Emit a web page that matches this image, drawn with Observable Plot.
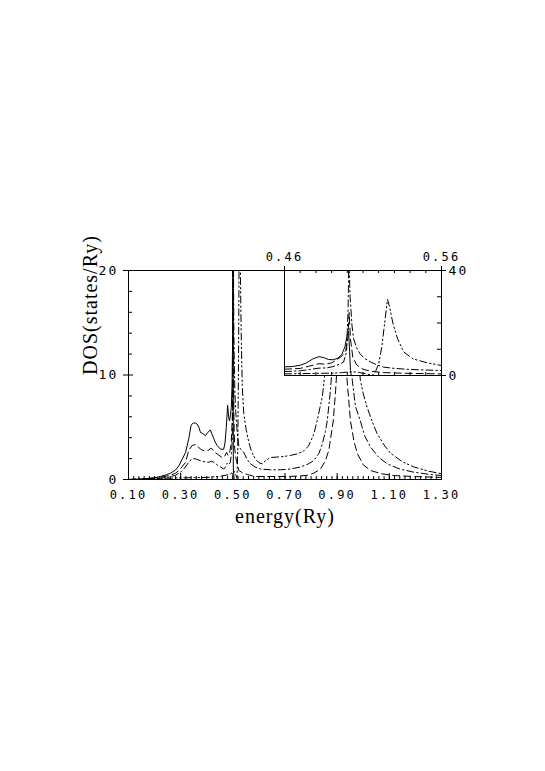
<!DOCTYPE html>
<html>
<head>
<meta charset="utf-8">
<script src="https://cdn.jsdelivr.net/npm/d3@7"></script>
<script src="https://cdn.jsdelivr.net/npm/@observablehq/plot@0.6"></script>
<style>
  html, body { margin: 0; padding: 0; background: white; }
  #wrap { position: relative; width: 545px; height: 771px; }
  #wrap svg { position: absolute; left: 0; top: 0; overflow: visible; }
  [aria-label$="tick label"] text { letter-spacing: 2.2px; }
  [aria-label="text"] text { letter-spacing: 1px; }
</style>
</head>
<body>
<div id="wrap"></div>
<script>
// ---------- Main panel data: [energy (Ry), DOS (states/Ry)] ----------
const solidMain = [[0.10,0],[0.15,0.05],[0.20,0.15],[0.223,0.3],[0.245,0.45],[0.261,0.6],[0.28,0.9],[0.293,1.3],[0.305,1.9],[0.319,2.6],[0.331,3.9],[0.34,5.2],[0.348,5.4],[0.357,5.4],[0.363,5.3],[0.37,5.0],[0.376,4.5],[0.385,4.4],[0.395,4.2],[0.404,4.5],[0.414,4.75],[0.419,4.4],[0.425,4.05],[0.432,3.6],[0.44,3.25],[0.453,2.9],[0.465,2.9],[0.47,3.5],[0.475,5.0],[0.48,7.1],[0.484,6.0],[0.487,5.6],[0.491,6.2],[0.494,6.9],[0.497,9],[0.4995,14],[0.5005,22],[0.502,1],[0.505,0],[1.30,0]];
const dashedMain = [[0.10,0],[0.15,0.03],[0.197,0.15],[0.23,0.25],[0.26,0.4],[0.28,0.6],[0.293,0.85],[0.305,1.2],[0.319,1.65],[0.331,2.8],[0.344,3.25],[0.357,3.35],[0.365,3.2],[0.376,2.9],[0.39,2.75],[0.408,2.8],[0.415,3.0],[0.421,2.9],[0.43,2.6],[0.44,2.45],[0.459,2.1],[0.468,2.2],[0.476,2.6],[0.482,2.3],[0.488,2.6],[0.494,3.5],[0.498,6],[0.5,12],[0.5012,25],[0.502,16],[0.504,6],[0.507,3],[0.512,2],[0.523,0.86],[0.54,0.6],[0.555,0.48],[0.575,0.35],[0.593,0.29],[0.65,0.28],[0.70,0.29],[0.747,0.32],[0.785,0.4],[0.81,0.6],[0.836,1.0],[0.855,1.8],[0.868,2.8],[0.885,5.6],[0.894,8.5],[0.90,11],[0.91,20],[0.917,30],[0.925,20],[0.932,13],[0.938,9.5],[0.951,5.6],[0.965,3.6],[0.977,2.5],[1.00,1.4],[1.028,0.86],[1.07,0.55],[1.117,0.38],[1.20,0.28],[1.30,0.2]];
const dashDotMain = [[0.10,0],[0.20,0.08],[0.25,0.2],[0.28,0.4],[0.30,0.7],[0.315,1.1],[0.331,1.65],[0.34,1.9],[0.35,2.0],[0.36,1.95],[0.376,1.8],[0.39,1.7],[0.408,1.65],[0.418,1.75],[0.427,1.65],[0.44,1.4],[0.453,1.2],[0.465,1.0],[0.472,1.2],[0.478,1.55],[0.483,1.4],[0.49,1.6],[0.495,2.5],[0.498,4],[0.50,9],[0.5008,45],[0.5015,30],[0.503,18],[0.504,14],[0.506,10.5],[0.508,8.3],[0.511,6.5],[0.515,5.1],[0.519,4.0],[0.523,3.2],[0.53,2.9],[0.542,2.6],[0.555,1.9],[0.568,1.5],[0.585,1.2],[0.606,1.0],[0.644,0.93],[0.683,0.93],[0.72,1.0],[0.76,1.2],[0.79,1.5],[0.81,1.8],[0.83,2.5],[0.843,3.4],[0.855,4.6],[0.862,5.6],[0.874,8.5],[0.885,12],[0.90,20],[0.917,35],[0.93,25],[0.945,15],[0.958,9.5],[0.97,7],[0.989,5.6],[1.005,4.2],[1.028,3.1],[1.06,2.1],[1.092,1.5],[1.14,1.0],[1.194,0.7],[1.25,0.5],[1.30,0.38]];
const dashDotDotMain = [[0.10,0],[0.20,0.1],[0.30,0.15],[0.40,0.2],[0.45,0.3],[0.49,0.5],[0.50,0.7],[0.505,0.8],[0.512,0.4],[0.516,0.1],[0.519,3],[0.522,12],[0.5256,29],[0.529,20],[0.532,14],[0.536,9],[0.542,6.3],[0.551,4.8],[0.56,3.7],[0.57,2.8],[0.585,2.0],[0.60,1.6],[0.613,1.5],[0.625,1.8],[0.644,2.1],[0.67,2.15],[0.695,2.2],[0.72,2.3],[0.747,2.45],[0.77,2.7],[0.79,3.2],[0.81,4.3],[0.823,5.6],[0.835,7.0],[0.843,7.9],[0.849,9.2],[0.86,12],[0.88,20],[0.90,32],[0.917,40],[0.94,32],[0.96,20],[0.98,12],[0.989,9.5],[1.00,8.2],[1.015,6.9],[1.035,5.5],[1.053,4.4],[1.08,3.3],[1.105,2.5],[1.15,1.7],[1.194,1.2],[1.25,0.8],[1.30,0.55]];

// ---------- Inset data (0.46 - 0.56 Ry) ----------
const solidInset = [[0.46,3.3],[0.465,3.4],[0.47,3.9],[0.474,4.8],[0.478,6.3],[0.482,7.2],[0.485,6.8],[0.488,6.1],[0.491,6.0],[0.494,6.6],[0.4965,8.0],[0.4985,11],[0.4998,15],[0.5008,17],[0.5015,9],[0.502,2],[0.5025,0],[0.56,0]];
const dashedInset = [[0.46,2.4],[0.47,2.7],[0.476,3.6],[0.482,4.5],[0.486,4.3],[0.49,4.8],[0.4935,6.1],[0.497,7.6],[0.499,9.5],[0.5003,14],[0.5012,24],[0.502,14],[0.5035,7],[0.506,4],[0.51,2.4],[0.515,1.6],[0.523,1.1],[0.54,0.8],[0.56,0.6]];
const dashDotInset = [[0.46,1.5],[0.47,1.8],[0.476,2.3],[0.482,2.8],[0.487,2.9],[0.491,3.4],[0.495,4.3],[0.4976,5.1],[0.4995,9],[0.5005,25],[0.501,45],[0.5018,30],[0.503,19],[0.504,14],[0.506,10.5],[0.508,8.3],[0.511,6.5],[0.515,5.1],[0.519,4.0],[0.523,3.2],[0.53,2.7],[0.54,2.3],[0.55,2.1],[0.56,1.9]];
const dashDotDotInset = [[0.46,0.6],[0.47,0.7],[0.48,0.8],[0.49,0.9],[0.497,1.1],[0.50,1.3],[0.504,1.4],[0.508,1.1],[0.512,0.6],[0.516,0.1],[0.518,1.5],[0.52,4.5],[0.522,11],[0.524,21],[0.5256,29],[0.527,26],[0.529,20],[0.532,14],[0.536,8.9],[0.542,6.3],[0.551,4.8],[0.56,3.8]];

// ---------- Ticks / labels ----------
const xMainTicks = [0.10,0.30,0.50,0.70,0.90,1.10,1.30];
const yMainTicks = [0,10,20];
const xInsetTicks = [0.46,0.56];
const yInsetTicks = [0,40];
const xTitle = "energy(Ry)";
const yTitle = "DOS(states/Ry)";

const styles = [
  {data: [solidMain, solidInset], dash: null},
  {data: [dashedMain, dashedInset], dash: "7,4"},
  {data: [dashDotMain, dashDotInset], dash: "7,3,1.5,3"},
  {data: [dashDotDotMain, dashDotDotInset], dash: "7,3,1.5,2.5,1.5,3"}
];

const W = 545, H = 771;
const mL = 128, mR = 104, mT = 270, mB = 292;
const fw = W - mL - mR, fh = H - mT - mB;
const monoFont = "'DejaVu Sans Mono', 'Liberation Mono', monospace";
const serifFont = "'Liberation Serif', 'DejaVu Serif', serif";

const xMinor = d3.range(0.12, 1.2999, 0.02);
const yMinor = d3.range(2, 20, 2).filter(v => v !== 10);

const main = Plot.plot({
  width: W, height: H,
  marginLeft: mL, marginRight: mR, marginTop: mT, marginBottom: mB,
  style: {fontFamily: monoFont, fontSize: "12px", background: "transparent", color: "black"},
  x: {domain: [0.10, 1.30]},
  y: {domain: [0, 20]},
  marks: [
    ...styles.map(s => Plot.line(s.data[0], {x: d => d[0], y: d => d[1], stroke: "black", strokeWidth: 1, strokeDasharray: s.dash, clip: true})),
    Plot.frame({stroke: "black", strokeWidth: 1}),
    Plot.tickX(xMinor, {x: d => d, insetTop: fh - 3, stroke: "black"}),
    Plot.tickX(xMainTicks, {x: d => d, insetTop: fh - 6, stroke: "black"}),
    Plot.tickY(yMinor, {y: d => d, insetRight: fw - 4, stroke: "black"}),
    Plot.tickY(yMainTicks, {y: d => d, insetLeft: -5, insetRight: fw - 5, stroke: "black"}),
    Plot.axisX({ticks: xMainTicks, tickSize: 0, tickPadding: 11, tickFormat: d3.format(".2f"), fontSize: 12}),
    Plot.axisY({ticks: yMainTicks, tickSize: 0, tickPadding: 10, tickFormat: d => String(d), fontSize: 13}),
    Plot.text([xTitle], {text: d => d, frameAnchor: "bottom", dy: 37, lineAnchor: "middle", fontFamily: serifFont, fontSize: 20}),
    Plot.text([yTitle], {text: d => d, frameAnchor: "left", dx: -38, rotate: -90, lineAnchor: "middle", fontFamily: serifFont, fontSize: 20})
  ]
});

const iL = 284, iR = 104, iT = 270, iB = H - 375;
const ifw = W - iL - iR, ifh = H - iT - iB;
const xInsetMinor = d3.range(0.47, 0.5599, 0.01);
const yInsetMinor = [10, 20, 30];

const inset = Plot.plot({
  width: W, height: H,
  marginLeft: iL, marginRight: iR, marginTop: iT, marginBottom: iB,
  style: {fontFamily: monoFont, fontSize: "12px", background: "transparent", color: "black"},
  x: {domain: [0.46, 0.56]},
  y: {domain: [0, 40]},
  marks: [
    Plot.frame({fill: "white", stroke: "none"}),
    ...styles.map(s => Plot.line(s.data[1], {x: d => d[0], y: d => d[1], stroke: "black", strokeWidth: 1, strokeDasharray: s.dash, clip: true})),
    Plot.frame({stroke: "black", strokeWidth: 1}),
    Plot.tickX(xInsetMinor, {x: d => d, insetBottom: ifh - 3, stroke: "black"}),
    Plot.tickX(xInsetMinor, {x: d => d, insetTop: ifh - 3, stroke: "black"}),
    Plot.tickX(xInsetTicks, {x: d => d, insetTop: -4, insetBottom: ifh - 3, stroke: "black"}),
    Plot.tickY(yInsetMinor, {y: d => d, insetLeft: ifw - 4, stroke: "black"}),
    Plot.tickY(yInsetTicks, {y: d => d, insetLeft: ifw - 3, insetRight: -5, stroke: "black"}),
    Plot.axisX({anchor: "top", ticks: xInsetTicks, tickSize: 0, tickPadding: 10, tickFormat: d3.format(".2f"), fontSize: 12}),
    Plot.axisY({anchor: "right", ticks: yInsetTicks, tickSize: 0, tickPadding: 7, tickFormat: d => String(d), fontSize: 13})
  ]
});

const wrap = document.getElementById("wrap");
wrap.appendChild(main);
wrap.appendChild(inset);
</script>
</body>
</html>
